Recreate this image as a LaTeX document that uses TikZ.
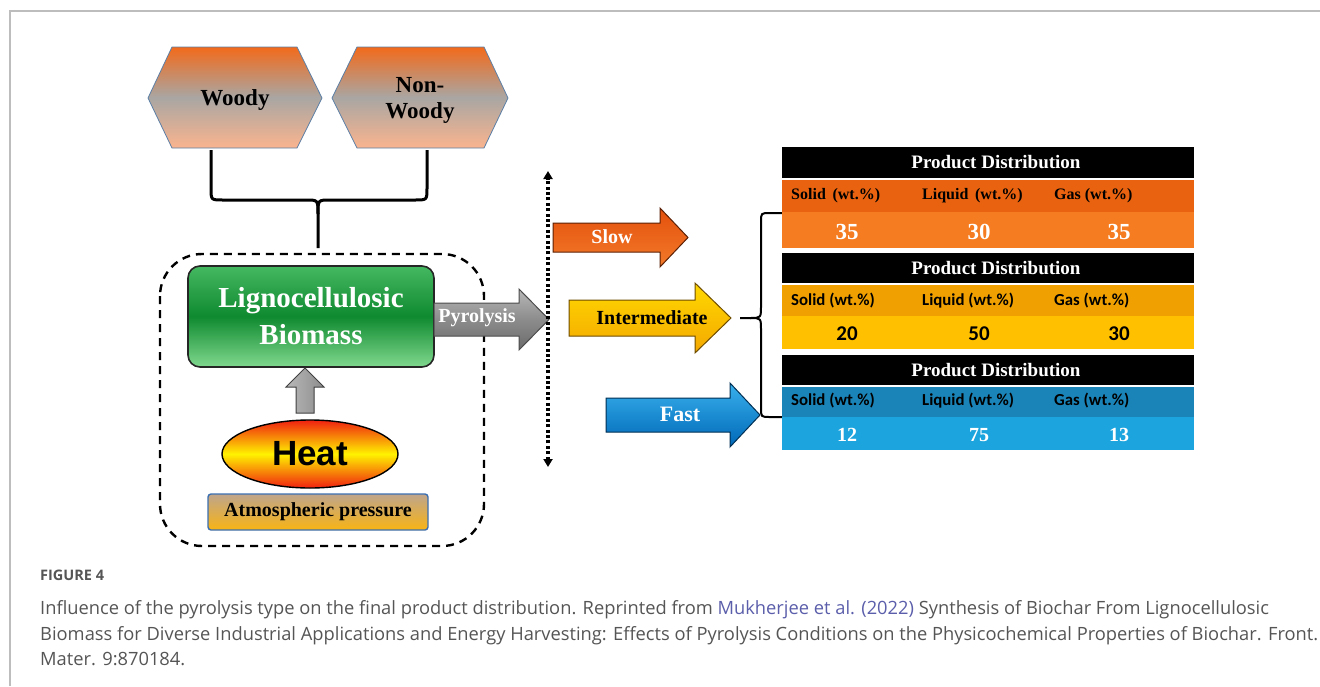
\documentclass[tikz,border=0pt]{standalone}
\usepackage{fontspec}
\usetikzlibrary{arrows.meta,shapes.geometric}
\setmainfont{Liberation Serif}
\newfontfamily\tnr{Liberation Serif}
\newfontfamily\arl{Liberation Sans}
\newfontfamily\cbr{Carlito}
\newfontfamily\capf{Open Sans}
\definecolor{framegray}{HTML}{BDBDBD}
\definecolor{hexTop}{HTML}{F26A1B}
\definecolor{hexMid}{HTML}{A9A6A3}
\definecolor{hexBot}{HTML}{FAB48E}
\definecolor{hexLine}{HTML}{5B7FA6}
\definecolor{grTop}{HTML}{45B862}
\definecolor{grMid}{HTML}{0F8A30}
\definecolor{grBot}{HTML}{80D88E}
\definecolor{gyTop}{HTML}{B8B8B8}
\definecolor{gyMid}{HTML}{8C8C8C}
\definecolor{gyBot}{HTML}{6A6A6A}
\definecolor{slTop}{HTML}{E4500C}
\definecolor{slBot}{HTML}{F27A2A}
\definecolor{inTop}{HTML}{FFD800}
\definecolor{inBot}{HTML}{F4A800}
\definecolor{faTop}{HTML}{38B0EC}
\definecolor{faBot}{HTML}{0068B8}
\definecolor{heatR}{HTML}{F02010}
\definecolor{heatY}{HTML}{FFF200}
\definecolor{atTop}{HTML}{BFA58C}
\definecolor{atBot}{HTML}{F8B414}
\definecolor{atLine}{HTML}{3B6FB0}
\definecolor{tAa}{HTML}{E9620F}
\definecolor{tAb}{HTML}{F57C20}
\definecolor{tBa}{HTML}{F0A000}
\definecolor{tBb}{HTML}{FFC000}
\definecolor{tCa}{HTML}{1A84B8}
\definecolor{tCb}{HTML}{1CA4DE}
\definecolor{capgray}{HTML}{555555}
\definecolor{linkcol}{HTML}{5B5EAA}
\begin{document}
\begin{tikzpicture}[x=1pt,y=-1pt,
  hexshape/.style={draw=hexLine, line width=0.8pt, top color=hexTop, bottom color=hexBot, middle color=hexMid},
  hextext/.style={font=\tnr\bfseries\fontsize{23}{26}\selectfont, text=black, align=center, inner sep=0pt},
  brace/.style={line width=3pt, line join=round},
  rbrace/.style={line width=2pt, line join=round},
  dashbox/.style={line width=2.4pt, dash pattern=on 8pt off 6pt, rounded corners=42pt},
  biomass/.style={draw=black!85, line width=1.6pt, rounded corners=12pt, top color=grTop, bottom color=grBot, middle color=grMid,
    minimum width=246pt, minimum height=101pt, align=center, text=white, font=\tnr\bfseries\fontsize{29}{37}\selectfont},
  heat/.style={ellipse, draw=black, line width=1.4pt, top color=heatR, bottom color=heatR, middle color=heatY,
    minimum width=176pt, minimum height=68pt, inner sep=0pt, font=\arl\bfseries\fontsize{35}{40}\selectfont},
  atmos/.style={draw=atLine, line width=1.4pt, rounded corners=3pt, top color=atTop, bottom color=atBot,
    minimum width=220pt, minimum height=36pt, inner sep=0pt, font=\tnr\bfseries\fontsize{20}{24}\selectfont},
  arrtext/.style={font=\tnr\bfseries\fontsize{20}{24}\selectfont, inner sep=0pt},
  bigarrow/.style={line width=1pt, line join=miter},
  thead/.style={inner sep=0pt, text=white, font=\tnr\bfseries\fontsize{19}{22}\selectfont},
  colA/.style={anchor=west, inner sep=0pt},
  numA/.style={inner sep=0pt},
  captext/.style={anchor=base west, inner sep=0pt, text=capgray, font=\capf\fontsize{18.3}{20}\selectfont}
]
\useasboundingbox (0,0) rectangle (1320,686);
% frame
\draw[framegray, line width=1.6pt] (10,686) -- (10,11) -- (1320,11);

% hexagons
\path[hexshape] (148,98) -- (172,47) -- (297,47) -- (322,98) -- (297,148) -- (172,148) -- cycle;
\path[hexshape] (332,98) -- (357,47) -- (484,47) -- (508,98) -- (484,148) -- (357,148) -- cycle;
\node[hextext] (woody) at (235,100) {Woody};
\node[hextext] (nonwoody) at (420,100) {Non-\\Woody};

% top brace
\coordinate (bl) at (211,150);
\coordinate (br) at (427,150);
\coordinate (bs) at (318,248);
\draw[brace] (bl) -- (211,188) .. controls (211,200) .. (223,200) -- (306,200) .. controls (318,200) .. (318,214) -- (bs);
\draw[brace] (br) -- (427,188) .. controls (427,200) .. (415,200) -- (330,200) .. controls (318,200) .. (318,214);

% dashed box
\draw[dashbox] (160,254) rectangle (484,546);

% biomass
\node[biomass] (bio) at (311,316.5) {Lignocellulosic\\Biomass};

% heat arrow
\path[bigarrow, draw=black!75, left color=gray!55, right color=gray!90] (296,413) -- (296,387) -- (286,387) -- (305,368) -- (324,387) -- (314,387) -- (314,413) -- cycle;

% heat ellipse
\node[heat] (heat) at (310,454) {Heat};

% atmospheric
\node[atmos] (atm) at (318,512) {Atmospheric pressure};

% pyrolysis arrow
\path[bigarrow, draw=black!70, top color=gyTop, bottom color=gyBot, middle color=gyMid] (434,303) -- (519,303) -- (519,289) -- (549,319.5) -- (519,350) -- (519,336) -- (434,336) -- cycle;
\node[arrtext, text=white] (pyr) at (477,318) {Pyrolysis};

% dotted axis
\coordinate (dtop) at (548,171);
\coordinate (dbot) at (548,467);
\draw[line width=3.4pt, dash pattern=on 3pt off 2.4pt, {Triangle[width=9pt,length=8pt]}-{Triangle[width=9pt,length=8pt]}] (dbot) -- (dtop);

% slow
\path[bigarrow, draw=black!60!slTop, top color=slTop, bottom color=slBot] (553,223) -- (660,223) -- (660,208) -- (688,237.5) -- (660,267) -- (660,252) -- (553,252) -- cycle;
\node[arrtext, text=white] (slow) at (612,237) {Slow};
% intermediate
\path[bigarrow, draw=black!55!inBot, top color=inTop, bottom color=inBot] (569,300) -- (695,300) -- (695,283) -- (731,318) -- (695,353) -- (695,336) -- (569,336) -- cycle;
\node[arrtext, text=black] (inter) at (652,318) {Intermediate};
% fast
\path[bigarrow, draw=black!55!faBot, top color=faTop, bottom color=faBot] (606,398) -- (730,398) -- (730,383) -- (760,415) -- (730,447) -- (730,432) -- (606,432) -- cycle;
\node[arrtext, text=white, font=\tnr\bfseries\fontsize{22}{24}\selectfont] (fast) at (680,414) {Fast};

% right brace
\coordinate (rt) at (782,213);
\coordinate (rb) at (782,417);
\coordinate (rtip) at (740,318);
\draw[rbrace] (rt) -- (770,213) .. controls (761,213) .. (761,222) -- (761,306) .. controls (761,318) .. (750,318) -- (rtip);
\draw[rbrace] (750,318) .. controls (761,318) .. (761,330) -- (761,408) .. controls (761,417) .. (770,417) -- (rb);

% table 1
\fill[black] (782,147) rectangle (1194,178);
\node[thead] (h1) at (996,162.5) {Product Distribution};
\fill[tAa] (782,180) rectangle (1194,212);
\fill[tAb] (782,212) rectangle (1194,248);
\node[colA, font=\tnr\bfseries\fontsize{16}{18}\selectfont] (s1) at (791,196) {Solid\, (wt.\%)};
\node[colA, font=\tnr\bfseries\fontsize{16}{18}\selectfont] (l1) at (922,196) {Liquid\, (wt.\%)};
\node[colA, font=\tnr\bfseries\fontsize{16}{18}\selectfont] (g1) at (1054,196) {Gas (wt.\%)};
\node[numA, text=white, font=\tnr\bfseries\fontsize{23}{24}\selectfont] (n11) at (847,232) {35};
\node[numA, text=white, font=\tnr\bfseries\fontsize{23}{24}\selectfont] (n12) at (979,232) {30};
\node[numA, text=white, font=\tnr\bfseries\fontsize{23}{24}\selectfont] (n13) at (1119,232) {35};

% table 2
\fill[black] (782,253) rectangle (1194,283);
\node[thead] (h2) at (996,268) {Product Distribution};
\fill[tBa] (782,285) rectangle (1194,316);
\fill[tBb] (782,316) rectangle (1194,349);
\node[colA, font=\cbr\bfseries\fontsize{16.8}{18}\selectfont] (s2) at (791,300.5) {Solid (wt.\%)};
\node[colA, font=\cbr\bfseries\fontsize{16.8}{18}\selectfont] (l2) at (922,300.5) {Liquid (wt.\%)};
\node[colA, font=\cbr\bfseries\fontsize{16.8}{18}\selectfont] (g2) at (1054,300.5) {Gas (wt.\%)};
\node[numA, font=\cbr\bfseries\fontsize{21}{24}\selectfont] (n21) at (847,334) {20};
\node[numA, font=\cbr\bfseries\fontsize{21}{24}\selectfont] (n22) at (979,334) {50};
\node[numA, font=\cbr\bfseries\fontsize{21}{24}\selectfont] (n23) at (1119,334) {30};

% table 3
\fill[black] (782,355) rectangle (1194,385);
\node[thead] (h3) at (996,370) {Product Distribution};
\fill[tCa] (782,387) rectangle (1194,417);
\fill[tCb] (782,417) rectangle (1194,450);
\node[colA, font=\cbr\bfseries\fontsize{16.8}{18}\selectfont] (s3) at (791,401) {Solid (wt.\%)};
\node[colA, font=\cbr\bfseries\fontsize{16.8}{18}\selectfont] (l3) at (922,401) {Liquid (wt.\%)};
\node[colA, font=\cbr\bfseries\fontsize{16.8}{18}\selectfont] (g3) at (1054,401) {Gas (wt.\%)};
\node[numA, text=white, font=\tnr\bfseries\fontsize{20}{24}\selectfont] (n31) at (847,435) {12};
\node[numA, text=white, font=\tnr\bfseries\fontsize{20}{24}\selectfont] (n32) at (979,435) {75};
\node[numA, text=white, font=\tnr\bfseries\fontsize{20}{24}\selectfont] (n33) at (1119,435) {13};

% caption
\node[captext, font=\capf\bfseries\fontsize{14.5}{16}\selectfont] (fig) at (40,580) {FIGURE 4};
\node[captext] (c1) at (40,614) {Influence of the pyrolysis type on the final product distribution. Reprinted from \textcolor{linkcol}{Mukherjee et al. (2022)} Synthesis of Biochar From Lignocellulosic};
\node[captext] (c2) at (40,640) {Biomass for Diverse Industrial Applications and Energy Harvesting: Effects of Pyrolysis Conditions on the Physicochemical Properties of Biochar. Front.};
\node[captext] (c3) at (40,665) {Mater. 9:870184.};
\end{tikzpicture}
\end{document}
